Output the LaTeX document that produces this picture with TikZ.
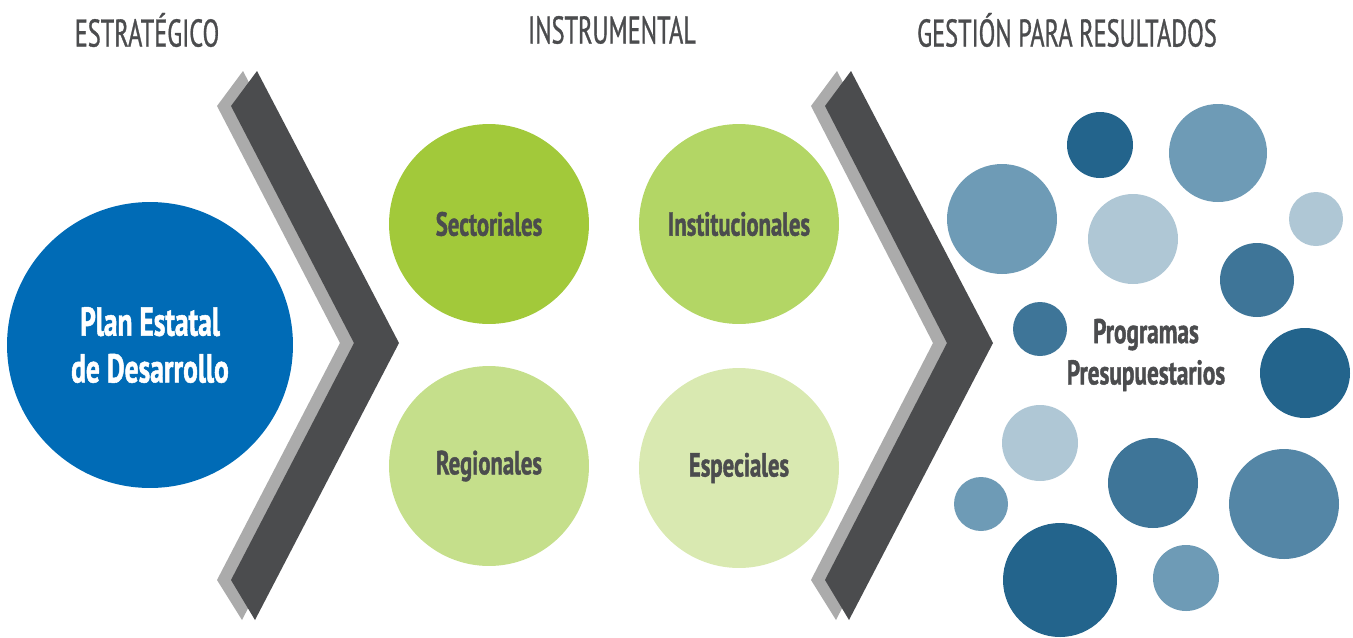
\documentclass[tikz,border=0pt]{standalone}
\usepackage{fontspec}
\newfontfamily\headfont[FakeStretch=0.63, FakeBold=0.8]{PT Sans}
\newfontfamily\labelfont[FakeStretch=0.68, FakeBold=1.2]{PT Sans Bold}
\definecolor{txtgray}{HTML}{4B4C4E}
\definecolor{chevdark}{HTML}{4B4C4E}
\definecolor{chevlight}{HTML}{ABABAB}
\definecolor{planblue}{HTML}{006BB6}
\definecolor{greenA}{HTML}{A2C93A}
\definecolor{greenB}{HTML}{B3D665}
\definecolor{greenC}{HTML}{C5DF8B}
\definecolor{greenD}{HTML}{D9E9B1}
\definecolor{blueA}{HTML}{23648C}
\definecolor{blueB}{HTML}{3E7598}
\definecolor{blueC}{HTML}{5486A6}
\definecolor{blueD}{HTML}{6E9BB6}
\definecolor{blueE}{HTML}{AFC7D5}
\begin{document}
\begin{tikzpicture}
        [x=0.02cm, y=-0.02cm,
        header/.style={text=txtgray, font=\headfont\fontsize{22}{26}\selectfont},
        bigcirc/.style={circle, minimum size=5.72cm, inner sep=0pt, align=center, text=white,
          font=\labelfont\fontsize{23}{26.6}\selectfont},
        midcirc/.style={circle, minimum size=4cm, inner sep=0pt, text=txtgray,
          font=\labelfont\fontsize{19}{21}\selectfont},
        bubble/.style={circle, inner sep=0pt}]

        \useasboundingbox (0,0) rectangle (1353,637);

        % column headers
        \node[header] (estr) at (147,30) {ESTRATÉGICO};
        \node[header] (instr) at (612,30) {INSTRUMENTAL};
        \node[header] (gest) at (1067,30) {GESTIÓN PARA RESULTADOS};

        % chevrons (grey shadow behind, dark in front)
        \fill[chevlight] (217,106) -- (243,71) -- (385,343) -- (242,620) -- (217,580) -- (340,343) -- cycle;
        \fill[chevdark] (231,106) -- (257,71) -- (399,343) -- (255,620) -- (231,580) -- (354,343) -- cycle;
        \fill[chevlight] (811,106) -- (837,71) -- (979,343) -- (836,620) -- (811,580) -- (933,343) -- cycle;
        \fill[chevdark] (825,106) -- (851,71) -- (993,343) -- (849,620) -- (825,580) -- (947,343) -- cycle;

        % strategic level
        \node[bigcirc, fill=planblue] (ped) at (150,345) {Plan Estatal\\de Desarrollo};

        % instrumental level
        \node[midcirc, fill=greenA] (sect) at (489,224) {Sectoriales};
        \node[midcirc, fill=greenB] (inst) at (739,224) {Institucionales};
        \node[midcirc, fill=greenC] (regi) at (489,466) {Regionales};
        \node[midcirc, fill=greenD] (espe) at (739,468) {Especiales};

        % results: cloud of budget programmes
        \foreach \bx/\by/\br/\bc [count=\i] in {
            1100/145/33/blueA, 1218/153/49/blueD, 1002/219/55/blueD,
            1133/239/45/blueE, 1316/219/27/blueE, 1257/280/37/blueB,
            1040/329/27/blueB, 1305/373/45/blueA, 1040/443/38/blueE,
            1153/483/45/blueB, 1284/504/55/blueC, 981/504/27/blueD,
            1060/580/57/blueA, 1186/578/33/blueD}
          \node[bubble, fill=\bc, minimum size=2*\br*0.02cm] (b\i) at (\bx,\by) {};

        \node[align=center, text=txtgray, font=\labelfont\fontsize{19.5}{23.5}\selectfont]
          (pp) at (1146,355) {Programas\\Presupuestarios};

        \end{tikzpicture}
\end{document}
